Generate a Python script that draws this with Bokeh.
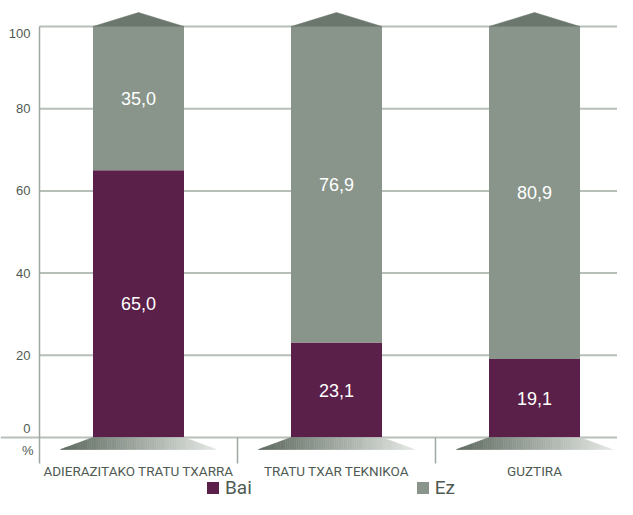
from bokeh.plotting import figure
from bokeh.models import Range1d, ColumnDataSource, Legend, LegendItem
from bokeh.core.properties import value
from bokeh.embed import file_html
from bokeh.resources import INLINE

# ---------------- data ----------------
categories = ["ADIERAZITAKO TRATU TXARRA", "TRATU TXAR TEKNIKOA", "GUZTIRA"]
bai = [65.0, 23.1, 19.1]
ez = [35.0, 76.9, 80.9]
yticks = [0, 20, 40, 60, 80, 100]
series_names = ["Bai", "Ez"]

# ---------------- style ----------------
BAI_COL = "#5b2049"
EZ_COL = "#89958a"
ARROW_COL = "#6b776d"
GRID_COL = "#b7bfb9"
AXIS_COL = "#9ea8a0"
TEXT_COL = "#4f5a53"
GRAD_DARK = (92, 104, 94)
GRAD_LIGHT = (228, 232, 228)
COND = "Roboto"
REG = "Liberation Sans"

W, H = 617, 499
CAT_PX = 198.0       # pixels per category
AXIS_X = 39.0        # canvas x of the value axis
ZERO_Y = 437.0       # canvas y of value 0
PX_PER_UNIT = 4.11   # pixels per percentage point

x0 = -AXIS_X / CAT_PX
x1 = (W - AXIS_X) / CAT_PX
y1 = ZERO_Y / PX_PER_UNIT
y0 = -(H - ZERO_Y) / PX_PER_UNIT


def px_x(px):
    return px / CAT_PX


def px_y(px):
    return px / PX_PER_UNIT


p = figure(width=W, height=H, x_range=Range1d(x0, x1), y_range=Range1d(y0, y1),
           output_backend="svg", toolbar_location=None, min_border=0,
           x_axis_location=None, y_axis_location=None, outline_line_color=None)
p.grid.visible = False
p.background_fill_color = "white"
p.border_fill_color = "white"

n = len(categories)
xc = [i + 0.5 for i in range(n)]
totals = [b + e for b, e in zip(bai, ez)]

# grid lines
top_tick = max(yticks)
for t in yticks:
    start = x0 if t == 0 else 0
    p.segment(x0=[start], y0=[t], x1=[x1], y1=[t], line_color=GRID_COL, line_width=2)

# value axis line and category separators
p.segment(x0=[0], y0=[top_tick], x1=[0], y1=[-px_y(26)], line_color=AXIS_COL, line_width=1.5)
p.segment(x0=list(range(1, n)), y0=[0] * (n - 1), x1=list(range(1, n)), y1=[-px_y(26)] * (n - 1),
          line_color=AXIS_COL, line_width=1.5)

# bars
BAR_W = px_x(91)
src = ColumnDataSource(dict(x=xc, bai=bai, ez_top=totals, zero=[0] * n))
r_bai = p.vbar(x="x", width=BAR_W, bottom="zero", top="bai", source=src,
               fill_color=BAI_COL, line_color=None)
r_ez = p.vbar(x="x", width=BAR_W, bottom="bai", top="ez_top", source=src,
              fill_color=EZ_COL, line_color=None)

# arrow heads on top of bars
ah = px_y(14)
axs = [[c - BAR_W / 2, c, c + BAR_W / 2] for c in xc]
ays = [[t, t + ah, t] for t in totals]
p.patches(xs=axs, ys=ays, fill_color=ARROW_COL, line_color=ARROW_COL, line_width=0.5)

# gradient trapezoids under the bars
ht = BAR_W / 2
hb = px_x(78)
gh = px_y(12)
N = 70
gxs, gys, gcols = [], [], []


def top_at(x, c):
    if x < c - ht:
        return -gh + gh * (x - (c - hb)) / (hb - ht)
    if x > c + ht:
        return -gh + gh * ((c + hb) - x) / (hb - ht)
    return 0.0


for c in xc:
    for k in range(N):
        xa = c - hb + 2 * hb * k / N
        xb = c - hb + 2 * hb * (k + 1) / N
        gxs.append([xa, xb, xb, xa])
        gys.append([-gh, -gh, top_at(xb, c), top_at(xa, c)])
        f = (k + 0.5) / N
        rgb = tuple(int(round(GRAD_DARK[j] + (GRAD_LIGHT[j] - GRAD_DARK[j]) * f)) for j in range(3))
        gcols.append("#%02x%02x%02x" % rgb)
p.patches(xs=gxs, ys=gys, fill_color=gcols, line_color=gcols, line_width=0.6)

# value labels
fmt = lambda v: ("%.1f" % v).replace(".", ",")
lab_x = xc + xc
lab_y = [b / 2 for b in bai] + [b + e / 2 for b, e in zip(bai, ez)]
lab_t = [fmt(v) for v in bai] + [fmt(v) for v in ez]
p.text(x=lab_x, y=lab_y, text=lab_t, text_color="white", text_font=value(REG),
       text_font_size="18px", text_align="center", text_baseline="middle")

# y tick labels
offs = [-9 if t == 0 else (7 if t == top_tick else 0) for t in yticks]
p.text(x=[-px_x(9)] * len(yticks), y=yticks, text=[str(t) for t in yticks], y_offset=offs,
       text_color=TEXT_COL, text_font=value(REG), text_font_size="13px",
       text_align="right", text_baseline="middle")
p.text(x=[-px_x(6)], y=[-px_y(13)], text=["%"], text_color=TEXT_COL, text_font=value(REG),
       text_font_size="13px", text_align="right", text_baseline="middle")

# category labels
p.text(x=xc, y=[-px_y(33)] * n, text=categories, text_color=TEXT_COL,
       text_font=value(COND), text_font_size="13.5px",
       text_align="center", text_baseline="middle")

# legend
legend = Legend(items=[LegendItem(label=series_names[0], renderers=[r_bai]),
                       LegendItem(label=series_names[1], renderers=[r_ez])],
                orientation="horizontal", location=(205, 0),
                glyph_width=15, glyph_height=15, label_standoff=5, spacing=163,
                label_height=15,
                padding=0, margin=0, border_line_color=None, background_fill_alpha=0,
                label_text_font=COND, label_text_font_size="19px", label_text_color=TEXT_COL)
p.add_layout(legend)

open("out.html", "w").write(file_html(p, INLINE))
